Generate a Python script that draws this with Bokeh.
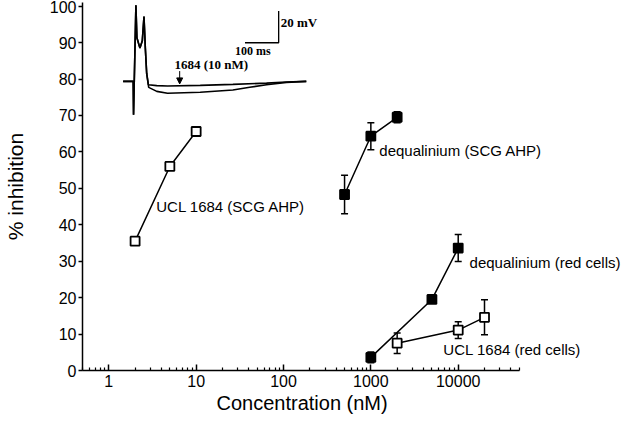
from bokeh.plotting import figure
from bokeh.models import (ColumnDataSource, Whisker, TeeHead, Label, Range1d,
                          FixedTicker, NumeralTickFormatter, Arrow, NormalHead,
                          LinearScale, Title)
from bokeh.embed import file_html
from bokeh.resources import INLINE

# ---------------- data ----------------
ucl_scg_conc = [2, 5, 10]
ucl_scg_inh = [35.5, 56.0, 65.6]
ucl_scg_err = [0.8, 0.8, 0.0]

deq_scg_conc = [500, 1000, 2000]
deq_scg_inh = [48.3, 64.3, 69.5]
deq_scg_err = [5.3, 3.7, 1.5]

deq_red_conc = [1000, 5000, 10000]
deq_red_inh = [3.6, 19.5, 33.6]
deq_red_err = [1.5, 0.8, 3.7]

ucl_red_conc = [2000, 10000, 20000]
ucl_red_inh = [7.5, 11.1, 14.6]
ucl_red_err = [2.8, 2.3, 4.8]

x_ticks = [1, 10, 100, 1000, 10000]
y_ticks = list(range(0, 101, 10))
x_axis_bounds = (0.5, 50000)

x_title = "Concentration (nM)"
y_title = "% inhibition"
series_labels = ["UCL 1684 (SCG AHP)", "dequalinium (SCG AHP)",
                 "dequalinium (red cells)", "UCL 1684 (red cells)"]

# inset voltage trace (time in ms, voltage in mV relative to rest)
spike_t = [0, 30, 31, 38, 41, 50, 57, 62, 66, 70]
spike_v = [0, 0, -21, 48, 27.5, 21, 25.6, 41, 21, 5]
ucl_trace_t = [75, 100, 132, 229, 326, 426, 485, 544]
ucl_trace_v = [-2.1, -2.7, -2.9, -2.5, -1.9, -1.1, -0.4, 0]
ctrl_trace_t = [76, 100, 132, 229, 326, 376, 426, 485, 544]
ctrl_trace_v = [-3.8, -6.3, -7.5, -6.9, -5.4, -3.75, -2.1, -0.6, 0]
scale_ms = 100
scale_mv = 20
inset_label = "1684 (10 nM)"

# ---------------- layout constants ----------------
W, H = 624, 414
BL, BR, BT, BB = 78, 2, 2, 0
Y_TOP = 101.0
AXIS_W = 440  # pixel length of the drawn x axis (0.5 .. 50000)
FONT = "Liberation Sans"
SERIF = "Liberation Serif"

FRAME_W = W - BL - BR
decades = 5 * FRAME_W / AXIS_W

p = figure(width=W, height=H, x_axis_type="log",
           x_range=Range1d(x_axis_bounds[0], x_axis_bounds[0] * 10 ** decades),
           y_range=Range1d(0, Y_TOP),
           output_backend="svg", toolbar_location=None,
           min_border_left=BL, min_border_right=BR,
           min_border_top=BT, min_border_bottom=BB)

p.grid.visible = False
p.outline_line_color = None
p.background_fill_color = "white"

# axes
minor = [m * 10 ** k for k in range(-1, 5) for m in range(2, 10)
         if x_axis_bounds[0] <= m * 10 ** k <= x_axis_bounds[1]]
p.xaxis.ticker = FixedTicker(ticks=x_ticks, minor_ticks=minor)
p.xaxis.formatter = NumeralTickFormatter(format="0")
p.xaxis.bounds = x_axis_bounds
p.xaxis.major_tick_in = 6
p.xaxis.major_tick_out = 0
p.xaxis.minor_tick_in = 3
p.xaxis.minor_tick_out = 0
p.xaxis.major_label_standoff = 4

p.yaxis.ticker = FixedTicker(ticks=y_ticks)
p.yaxis.axis_label = y_title
p.yaxis.major_tick_in = 0
p.yaxis.major_tick_out = 4
p.yaxis.minor_tick_line_color = None
p.yaxis.major_label_standoff = 2
p.yaxis.axis_label_standoff = 20

for ax in (p.xaxis, p.yaxis):
    ax.axis_line_width = 1.5
    ax.major_tick_line_width = 1.5
    ax.minor_tick_line_width = 1.2
    ax.axis_line_color = "black"
    ax.major_tick_line_color = "black"
    ax.major_label_text_font = FONT
    ax.major_label_text_font_size = "16px"
    ax.major_label_text_color = "black"
    ax.axis_label_text_font = FONT
    ax.axis_label_text_font_size = "21px"
    ax.axis_label_text_font_style = "normal"
    ax.axis_label_text_color = "black"
p.xaxis.minor_tick_line_color = "black"

# x-axis title placed as a left-aligned title below the axis
p.add_layout(Title(text=x_title, align="left", offset=134, standoff=1,
                   text_font=FONT, text_font_size="20px",
                   text_font_style="normal", text_color="black"), "below")

# inset in its own linear ms / mV coordinates
SX = AXIS_W / 441.0
T0_PX, PX_PER_MS = 41 * SX, 0.34 * SX
V_BASE_PCT, PCT_PER_MV = 79.35, 1.6 / 3.68
p.extra_x_ranges = {"t": Range1d(-T0_PX / PX_PER_MS, (FRAME_W - T0_PX) / PX_PER_MS)}
p.extra_y_ranges = {"v": Range1d((0 - V_BASE_PCT) / PCT_PER_MV,
                                 (Y_TOP - V_BASE_PCT) / PCT_PER_MV)}
p.extra_x_scales = {"t": LinearScale()}
p.extra_y_scales = {"v": LinearScale()}

# series
series = [
    (ucl_scg_conc, ucl_scg_inh, ucl_scg_err, "white"),
    (deq_scg_conc, deq_scg_inh, deq_scg_err, "black"),
    (deq_red_conc, deq_red_inh, deq_red_err, "black"),
    (ucl_red_conc, ucl_red_inh, ucl_red_err, "white"),
]
for xs, ys, es, fill in series:
    src = ColumnDataSource(dict(x=xs, y=ys,
                                upper=[y + e for y, e in zip(ys, es)],
                                lower=[y - e for y, e in zip(ys, es)]))
    w = Whisker(source=src, base="x", upper="upper", lower="lower",
                line_color="black", line_width=1.5, level="underlay",
                upper_head=TeeHead(size=7, line_width=1.5, line_color="black"),
                lower_head=TeeHead(size=7, line_width=1.5, line_color="black"))
    p.add_layout(w)
    p.line("x", "y", source=src, line_color="black", line_width=1.5)
    p.scatter("x", "y", source=src, marker="square", size=9,
              fill_color=fill, line_color="black", line_width=1.8)

label_pos = [(3.49, 45.1), (1250, 60.3), (13500, 29.6), (6760, 5.7)]
for (lx, ly), txt in zip(label_pos, series_labels):
    p.add_layout(Label(x=lx, y=ly, text=txt, text_font=FONT,
                       text_font_size="15px", text_baseline="middle",
                       text_align="left", text_color="black"))

# inset trace
p.line(spike_t + ctrl_trace_t, spike_v + ctrl_trace_v, x_range_name="t",
       y_range_name="v", line_color="black", line_width=1.6)
p.line(spike_t + ucl_trace_t, spike_v + ucl_trace_v, x_range_name="t",
       y_range_name="v", line_color="black", line_width=1.6)

# scale bar
bar_t, bar_v = 462, 24.4
p.line([bar_t - scale_ms, bar_t, bar_t], [bar_v, bar_v, bar_v + scale_mv],
       x_range_name="t", y_range_name="v", line_color="black", line_width=1.3)
p.add_layout(Label(x=bar_t + 6, y=bar_v + 13, text=f"{scale_mv} mV",
                   x_range_name="t", y_range_name="v", text_font=SERIF,
                   text_font_style="bold", text_font_size="13px",
                   text_baseline="middle", text_align="left", text_color="black"))
p.add_layout(Label(x=bar_t - 77, y=bar_v - 5, text=f"{scale_ms} ms",
                   x_range_name="t", y_range_name="v", text_font=SERIF,
                   text_font_style="bold", text_font_size="12px",
                   text_baseline="middle", text_align="center", text_color="black"))
p.add_layout(Label(x=262, y=10.6, text=inset_label,
                   x_range_name="t", y_range_name="v", text_font=SERIF,
                   text_font_style="bold", text_font_size="13px",
                   text_baseline="middle", text_align="center", text_color="black"))
p.add_layout(Arrow(end=NormalHead(size=6, fill_color="black", line_color="black"),
                   x_start=168, y_start=6.5, x_end=168, y_end=-1.6,
                   x_range_name="t", y_range_name="v",
                   line_color="black", line_width=1))

open("out.html", "w").write(file_html(p, INLINE))
